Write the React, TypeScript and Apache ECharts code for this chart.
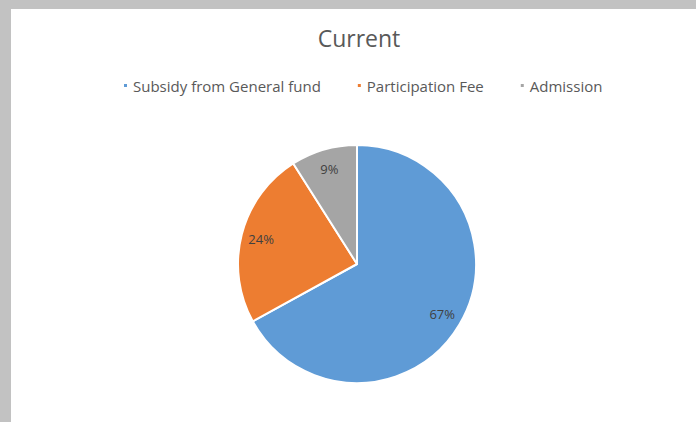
import React, { useEffect, useRef } from "react";
import * as echarts from "echarts";

const categories = ["Subsidy from General fund", "Participation Fee", "Admission"];
const values = [67, 24, 9];
const colors = ["#5F9BD6", "#ED7D31", "#A5A5A5"];
const titleText = "Current";

export default function App() {
  const ref = useRef<HTMLDivElement>(null);
  useEffect(() => {
    if (!ref.current) return;
    const chart = echarts.init(ref.current, null, { renderer: "svg" });
    const data = categories.map((name, i) => ({
      name,
      value: values[i],
      itemStyle: { color: colors[i] },
    }));
    chart.setOption({
      animation: false,
      backgroundColor: "#c2c2c2",
      graphic: [
        {
          type: "rect",
          z: -10,
          shape: { x: 11, y: 9, width: 685, height: 413 },
          style: { fill: "#ffffff" },
          silent: true,
        },
      ],
      title: {
        text: titleText,
        left: 354,
        top: 21,
        textAlign: "center",
        textStyle: {
          fontFamily: "Open Sans",
          fontSize: 23,
          fontWeight: "normal",
          color: "#595959",
        },
      },
      legend: {
        top: 73,
        left: 117,
        icon: "rect",
        itemWidth: 5,
        itemHeight: 5,
        itemGap: 35,
        data: categories.map((name, i) => ({ name, itemStyle: { color: colors[i] } })),
        textStyle: {
          fontFamily: "Open Sans",
          fontSize: 15,
          color: "#595959",
        },
      },
      series: [
        {
          type: "pie",
          center: [357, 264],
          radius: 119,
          startAngle: 90,
          clockwise: true,
          silent: true,
          data,
          label: { show: false },
          labelLine: { show: false },
          itemStyle: { borderColor: "#ffffff", borderWidth: 2 },
        },
        {
          type: "pie",
          center: [357, 264],
          radius: [73, 119],
          startAngle: 90,
          clockwise: true,
          silent: true,
          data: categories.map((name, i) => ({ name, value: values[i] })),
          itemStyle: { color: "rgba(0,0,0,0)", borderWidth: 0 },
          label: {
            show: true,
            position: "inside",
            formatter: "{d}%",
            fontFamily: "Open Sans",
            fontSize: 13,
            color: "#404040",
          },
          labelLine: { show: false },
        },
      ],
    });
    return () => chart.dispose();
  }, []);
  return (
    <div
      ref={ref}
      style={{ position: "fixed", left: 0, top: 0, width: 696, height: 422 }}
    />
  );
}
